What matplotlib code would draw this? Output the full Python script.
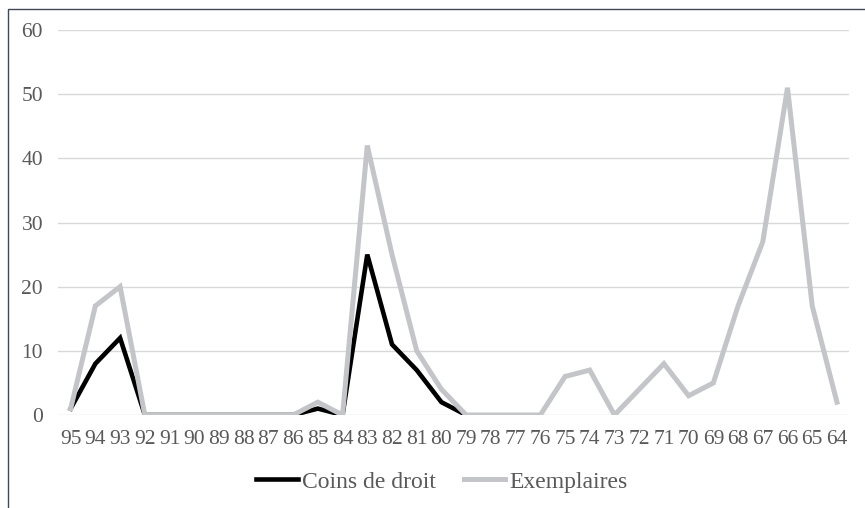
import matplotlib.pyplot as plt
from matplotlib.patches import Rectangle

years = ['95', '94', '93', '92', '91', '90', '89', '88', '87', '86', '85', '84',
         '83', '82', '81', '80', '79', '78', '77', '76', '75', '74', '73', '72',
         '71', '70', '69', '68', '67', '66', '65', '64']
coins = [1, 8, 12, 0, 0, 0, 0, 0, 0, 0, 1, 0, 25, 11, 7, 2, 0]
exemplaires = [1, 17, 20, 0, 0, 0, 0, 0, 0, 0, 2, 0, 42, 25, 10, 4, 0,
               0, 0, 0, 6, 7, 0, 4, 8, 3, 5, 17, 27, 51, 17, 2]

plt.rcParams['font.family'] = ['Liberation Serif', 'DejaVu Serif']

fig = plt.figure(figsize=(8.65, 5.08), dpi=100)
ax = fig.add_axes([58.3 / 865, 93 / 508, 791 / 865, 385 / 508])

x = list(range(len(years)))
ax.plot(x[:len(coins)], coins, color='black', lw=3.3, label='Coins de droit',
        solid_joinstyle='miter', zorder=2)
ax.plot(x, exemplaires, color='#c3c5c8', lw=3.6, label='Exemplaires',
        solid_joinstyle='miter', zorder=3)

ax.set_xlim(-0.5, len(years) - 0.5)
ax.set_ylim(0, 60)
ax.set_yticks(range(0, 61, 10))
ax.set_xticks(x)
ax.set_xticklabels(years)
ax.tick_params(length=0, labelsize=15.5, labelcolor='#595959')
ax.tick_params(axis='y', pad=11)
ax.tick_params(axis='x', pad=11)
ax.grid(axis='y', color='#d9d9d9', lw=1)
ax.set_axisbelow(True)
for s in ax.spines.values():
    s.set_visible(False)

leg = fig.legend(loc='center', bbox_to_anchor=(442 / 865, 1 - 482 / 508), ncol=2,
                 frameon=False, fontsize=17, handlelength=1.75, handletextpad=0.17,
                 columnspacing=1.2)
for t in leg.get_texts():
    t.set_color('#595959')

fig.patches.append(Rectangle((8 / 865, -0.1), 1.2, 1.1 - 9 / 508,
                             transform=fig.transFigure, fill=False,
                             edgecolor='#404858', lw=1))

fig.savefig('out.png')
